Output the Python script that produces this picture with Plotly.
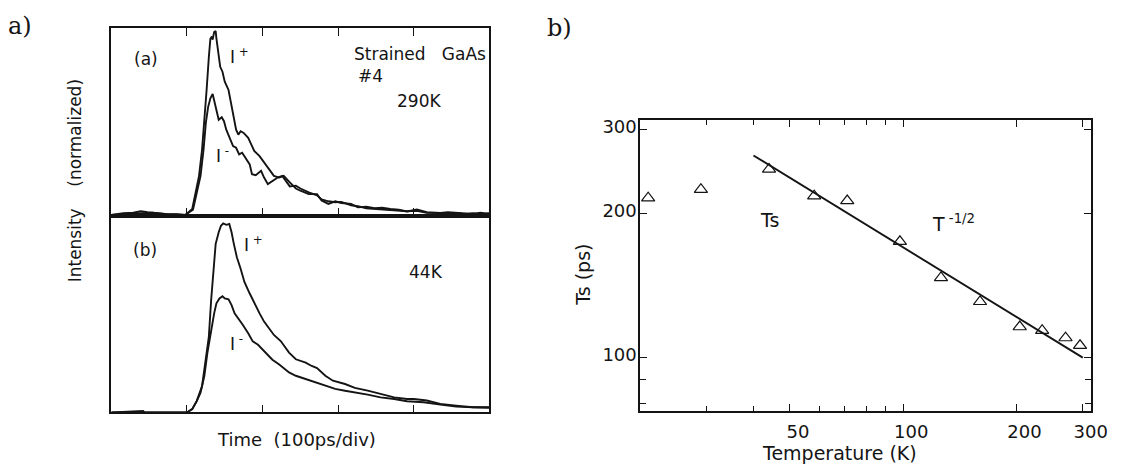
import math
import plotly.graph_objects as go

W, H = 1125, 469

# ---------------- Panel a data (time in ps, intensity normalized) ----------------
t_290_plus = [0, 16, 29, 39, 48, 57, 70, 87, 98, 107, 111, 116, 120, 123, 126, 129, 131, 133, 134, 136,
              138, 139, 142, 144, 147, 150, 155, 158, 161, 165, 168, 171, 175, 181, 185, 189, 196, 202,
              209, 215, 222, 228, 236, 244, 250, 261, 272, 278, 287, 296, 304, 317, 326, 337, 348, 358,
              369, 380, 391, 404, 417, 435, 445, 456, 467, 478, 488, 500]
i_290_plus = [0.007, 0.016, 0.018, 0.026, 0.021, 0.016, 0.012, 0.011, 0.007, 0.038, 0.109, 0.214, 0.354,
              0.495, 0.670, 0.846, 0.942, 0.954, 0.937, 0.977, 0.983, 0.942, 0.863, 0.793, 0.767, 0.714,
              0.670, 0.600, 0.547, 0.459, 0.433, 0.451, 0.442, 0.416, 0.381, 0.346, 0.319, 0.284, 0.249,
              0.214, 0.205, 0.214, 0.179, 0.147, 0.135, 0.117, 0.117, 0.083, 0.065, 0.079, 0.070, 0.065,
              0.047, 0.050, 0.042, 0.045, 0.038, 0.034, 0.025, 0.035, 0.021, 0.017, 0.021, 0.017, 0.013,
              0.012, 0.018, 0.012]

t_290_minus = [0, 16, 35, 55, 74, 98, 108, 113, 118, 122, 125, 128, 131, 134, 137, 140, 142, 146, 149, 152,
               157, 161, 165, 169, 173, 178, 183, 186, 191, 198, 202, 207, 213, 220, 226, 231, 236, 244,
               250, 261, 272, 278, 287, 296, 304, 317, 326, 337, 348, 358, 369, 380, 391, 404, 417, 435,
               445, 456, 467, 478, 488, 500]
i_290_minus = [0.007, 0.011, 0.013, 0.018, 0.011, 0.007, 0.034, 0.116, 0.214, 0.354, 0.495, 0.579, 0.626,
               0.649, 0.600, 0.547, 0.512, 0.525, 0.504, 0.459, 0.407, 0.372, 0.363, 0.328, 0.337, 0.302,
               0.275, 0.223, 0.217, 0.241, 0.205, 0.170, 0.188, 0.205, 0.214, 0.189, 0.158, 0.162, 0.147,
               0.126, 0.111, 0.089, 0.079, 0.074, 0.076, 0.058, 0.053, 0.042, 0.038, 0.037, 0.034, 0.029,
               0.026, 0.029, 0.018, 0.016, 0.013, 0.016, 0.011, 0.016, 0.011, 0.016]

t_44_plus = [0, 42, 44, 100, 107, 113, 120, 124, 129, 132, 135, 138, 142, 145, 148, 152, 156, 159, 162, 166,
             171, 176, 183, 189, 196, 202, 209, 215, 224, 235, 244, 257, 265, 272, 283, 293, 309, 322, 339,
             356, 374, 391, 400, 417, 435, 456, 478, 500]
i_44_plus = [0, 0.008, 0, 0, 0.017, 0.059, 0.135, 0.236, 0.387, 0.572, 0.741, 0.859, 0.918, 0.951, 0.963,
             0.956, 0.960, 0.918, 0.859, 0.791, 0.732, 0.665, 0.606, 0.556, 0.505, 0.463, 0.429, 0.395,
             0.364, 0.305, 0.271, 0.254, 0.237, 0.226, 0.187, 0.162, 0.145, 0.125, 0.111, 0.094, 0.077,
             0.069, 0.069, 0.061, 0.044, 0.035, 0.027, 0.027]

t_44_minus = [0, 100, 107, 113, 118, 123, 127, 132, 136, 139, 143, 147, 150, 155, 159, 163, 168, 174, 181,
              187, 194, 200, 207, 213, 222, 228, 235, 244, 257, 270, 283, 296, 309, 322, 339, 356, 374,
              391, 413, 435, 456, 478, 500]
i_44_minus = [0, 0, 0.017, 0.058, 0.101, 0.185, 0.303, 0.421, 0.505, 0.556, 0.581, 0.592, 0.581, 0.576,
              0.547, 0.505, 0.475, 0.446, 0.404, 0.362, 0.345, 0.320, 0.294, 0.269, 0.244, 0.227, 0.204,
              0.187, 0.170, 0.153, 0.136, 0.120, 0.111, 0.103, 0.091, 0.077, 0.069, 0.057, 0.052, 0.040,
              0.030, 0.027, 0.024]

time_ticks = [100, 200, 300, 400]

# ---------------- Panel b data ----------------
temp_K = [21, 29, 44, 58, 71, 98, 126, 160, 204, 234, 270, 295]
ts_ps = [216, 225, 248, 218, 213, 175, 147, 131, 116, 114, 110, 106]
fit_T = [40, 300]
fit_ts = [265, 100]
temp_ticks = [50, 100, 200, 300]
temp_minor = [30, 40, 60, 70, 80, 90]
ts_ticks = [100, 200, 300]
ts_minor = [80, 90]


def px(x):
    return x / W


def py(y):
    return (H - y) / H


INK = "#141414"
SANS = "DejaVu Sans"
SERIF = "DejaVu Serif"

fig = go.Figure()
line = dict(color=INK, width=1.9)
fig.add_trace(go.Scatter(x=t_290_plus, y=i_290_plus, mode="lines", line=line, xaxis="x", yaxis="y"))
fig.add_trace(go.Scatter(x=t_290_minus, y=i_290_minus, mode="lines", line=line, xaxis="x", yaxis="y"))
fig.add_trace(go.Scatter(x=t_44_plus, y=i_44_plus, mode="lines", line=line, xaxis="x2", yaxis="y2"))
fig.add_trace(go.Scatter(x=t_44_minus, y=i_44_minus, mode="lines", line=line, xaxis="x2", yaxis="y2"))

fig.add_trace(go.Scatter(x=fit_T, y=fit_ts, mode="lines", line=dict(color=INK, width=1.9),
                         xaxis="x3", yaxis="y3"))
fig.add_trace(go.Scatter(x=temp_K, y=ts_ps, mode="markers",
                         marker=dict(symbol="triangle-up-open", size=11.5, color=INK,
                                     line=dict(color=INK, width=1.2)),
                         xaxis="x3", yaxis="y3"))

axis_common = dict(showgrid=False, zeroline=False, showline=True, linecolor=INK, linewidth=1.6)

fig.update_layout(
    width=W, height=H, margin=dict(l=0, r=0, t=0, b=0),
    paper_bgcolor="white", plot_bgcolor="white", showlegend=False,
    xaxis=dict(axis_common, domain=[px(113), px(497)], range=[0, 500], anchor="y",
               tickvals=time_ticks, ticks="inside", ticklen=8, tickwidth=1.4, tickcolor=INK,
               showticklabels=False, mirror="ticks"),
    yaxis=dict(axis_common, domain=[py(214), py(24)], range=[0, 1], anchor="x",
               ticks="", showticklabels=False, mirror=True),
    xaxis2=dict(axis_common, domain=[px(113), px(497)], range=[0, 500], anchor="y2",
                tickvals=time_ticks, ticks="inside", ticklen=8, tickwidth=1.4, tickcolor=INK,
                showticklabels=False, mirror=True),
    yaxis2=dict(axis_common, domain=[py(412), py(214)], range=[0, 1], anchor="x2",
                ticks="", showticklabels=False, mirror=True),
    xaxis3=dict(axis_common, type="log", domain=[px(650), px(1108)],
                range=[math.log10(20), math.log10(316)], anchor="y3",
                tickvals=temp_ticks, ticktext=[str(v) for v in temp_ticks],
                ticks="inside", ticklen=7, tickwidth=1.4, tickcolor=INK, mirror="ticks",
                tickfont=dict(family=SANS, size=18, color=INK), ticklabelshift=8,
                ticklabelstandoff=4,
                minor=dict(tickmode="array", tickvals=temp_minor, ticks="inside", ticklen=5,
                           tickwidth=1.2, tickcolor=INK)),
    yaxis3=dict(axis_common, type="log", domain=[py(410), py(117.3)],
                range=[math.log10(77.5), math.log10(314)], anchor="x3",
                tickvals=ts_ticks, ticktext=[str(v) for v in ts_ticks],
                ticks="inside", ticklen=7, tickwidth=1.4, tickcolor=INK, mirror="ticks",
                tickfont=dict(family=SANS, size=18, color=INK),
                ticklabelstandoff=-2, ticklabelshift=-3,
                minor=dict(tickmode="array", tickvals=ts_minor, ticks="inside", ticklen=6,
                           tickwidth=1.2, tickcolor=INK)),
)


def note(text, x, y, size=17, xanchor="left", family=SANS, angle=0):
    fig.add_annotation(text=text, x=px(x), y=py(y), xref="paper", yref="paper",
                       xanchor=xanchor, yanchor="middle", showarrow=False, textangle=angle,
                       font=dict(family=family, size=size, color=INK))


nb = "\u00a0"
# panel a texts
note("a)", 20, 22, size=24, xanchor="center", family=SERIF)
note("(a)", 148.5, 55, xanchor="center")
note("I<sup>" + nb + "+</sup>", 232, 52)
note("I<sup>" + nb + "-</sup>", 217, 152)
note("Strained" + nb * 3 + "GaAs", 357, 50, size=17)
note("#4", 361, 73, size=17)
note("290K", 401, 98, size=17)
note("(b)", 147.5, 248, xanchor="center")
note("44K", 413, 270, size=17)
note("I<sup>" + nb + "+</sup>", 246, 242)
note("I<sup>" + nb + "-</sup>", 231, 342)
note("Time" + nb * 2 + "(100ps/div)", 300.7, 439.3, size=18, xanchor="center")
note("Intensity" + nb * 4 + "(normalized)", 77, 178, size=17, xanchor="center", angle=-90)

# panel b texts
note("b)", 568, 24, size=24, xanchor="center", family=SERIF)
note("Ts", 781.7, 218.3, size=19, xanchor="center")
note("T<sup>" + nb + "-1/2</sup>", 944, 220.5, size=19)
note("Ts (ps)", 592, 273, size=19, xanchor="center", angle=-90)
note("Temperature (K)", 852, 453, size=19, xanchor="center")

fig.write_html("out.html")
